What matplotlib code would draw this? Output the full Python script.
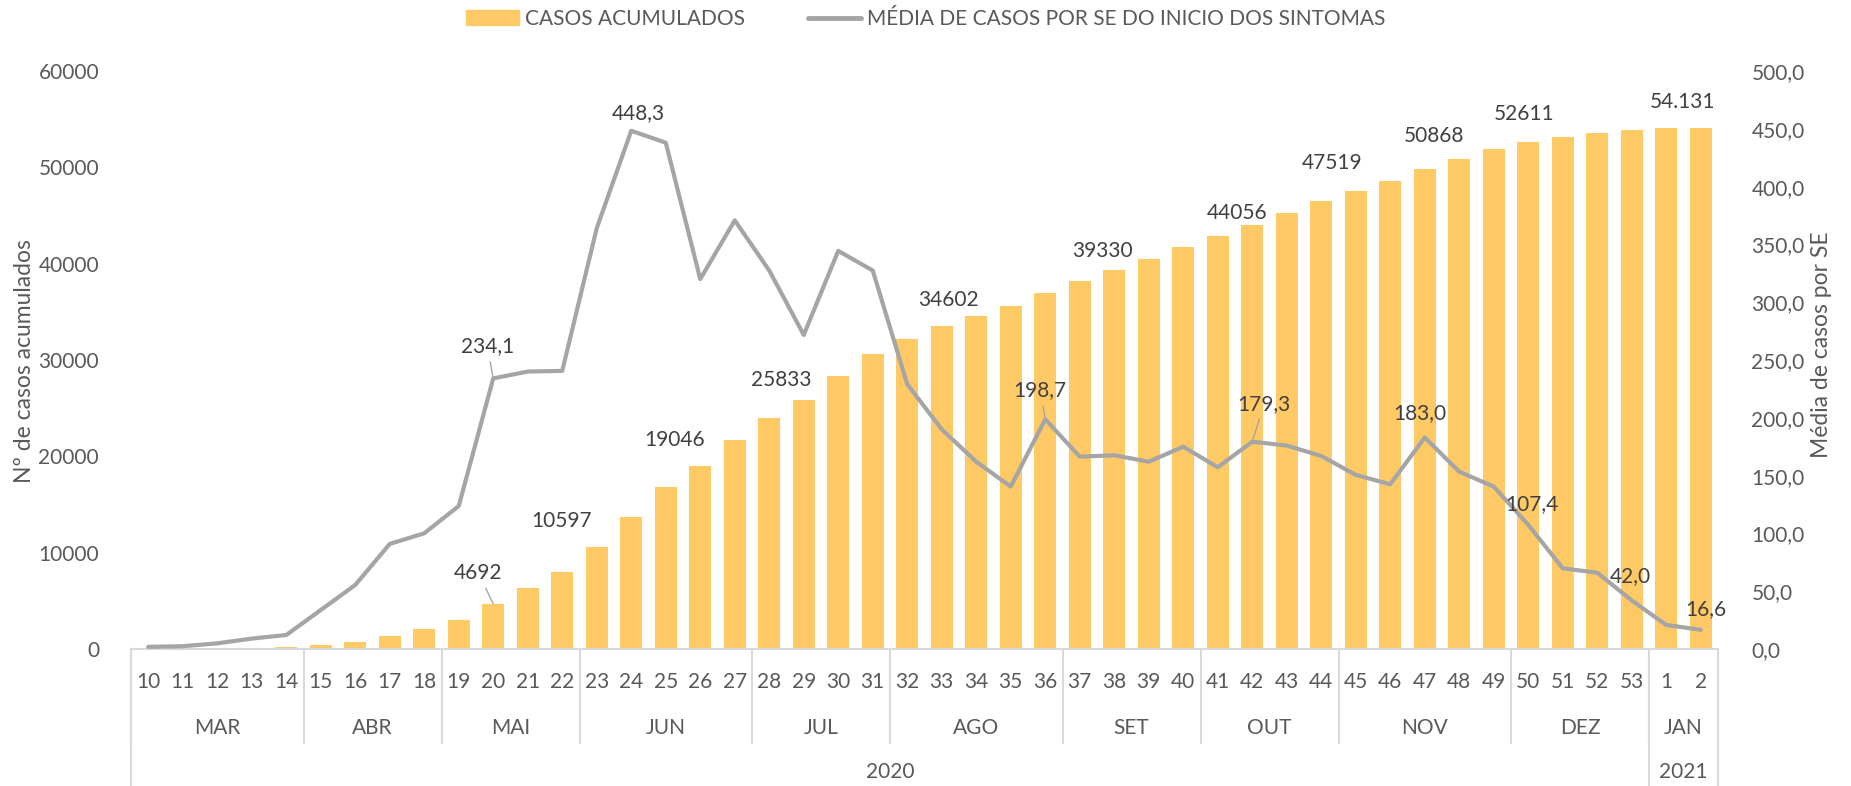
import matplotlib
matplotlib.use('Agg')
import matplotlib.pyplot as plt
import matplotlib.transforms as mtransforms
from matplotlib.lines import Line2D
from matplotlib.patches import Patch
import numpy as np

plt.rcParams['font.family'] = ['Lato', 'DejaVu Sans']

# semanas epidemiologicas (2020: 10-53, 2021: 1-2)
weeks = [str(w) for w in range(10, 54)] + ['1', '2']
months = ['MAR', 'ABR', 'MAI', 'JUN', 'JUL', 'AGO', 'SET', 'OUT', 'NOV', 'DEZ', 'JAN']
month_sizes = [5, 4, 4, 5, 4, 5, 4, 4, 5, 4, 2]
years = ['2020', '2021']
year_sizes = [44, 2]

casos_acumulados = [3, 12, 45, 110, 230, 380, 750, 1370, 2100, 2960, 4692, 6300, 7990,
                    10597, 13700, 16800, 19046, 21700, 24000, 25833, 28300, 30600, 32200,
                    33500, 34602, 35600, 37000, 38200, 39330, 40500, 41700, 42850, 44056,
                    45300, 46500, 47519, 48550, 49800, 50868, 51900, 52611, 53150, 53600,
                    53870, 54050, 54131]
media_casos = [1.9, 2.4, 4.9, 9.0, 12.1, 33.7, 55.4, 90.9, 100.1, 123.7, 234.1, 240.0,
               240.6, 364.0, 448.3, 438.0, 320.0, 370.8, 327.4, 271.7, 344.4, 327.4, 229.0,
               190.0, 162.0, 140.5, 198.7, 166.4, 167.6, 162.0, 175.0, 157.2, 179.3, 176.0,
               167.0, 150.6, 142.5, 183.0, 153.4, 140.5, 107.4, 69.8, 66.0, 42.0, 20.8, 16.6]

# which points get a data label: (index, dx px, dy px, leader line)
bar_labels = [(10, -15, 31, True), (13, -35, 26, False), (16, -26, 26, False),
              (19, -23, 20, False), (24, -28, 16, False), (28, -12, 19, False),
              (32, -15, 12, False), (35, -24, 28, False), (38, -25, 23, False),
              (40, -4, 28, False), (45, -18, 26, False)]
line_labels = [(10, -6, 32, True), (14, 7, 18, False), (26, -5, 29, True),
               (32, 12, 38, True), (37, -5, 24, False), (40, 4, 21, False),
               (43, -1, 24, False), (45, 5, 21, False)]

BAR = '#FFC966'
LINE = '#A5A5A5'
TXT = '#595959'
LAB = '#404040'
GRID = '#D9D9D9'
FS = 15

W, H = 1851, 786
fy = lambda py: 1 - py / H
fig = plt.figure(figsize=(W / 100, H / 100), dpi=100)
ax = fig.add_axes([131 / W, fy(649), (1718 - 131) / W, (649 - 71) / H])
ax2 = ax.twinx()

x = np.arange(len(weeks))
ax.bar(x, casos_acumulados, width=0.65, color=BAR, zorder=2)
ax2.plot(x, media_casos, color=LINE, lw=3.0, solid_capstyle='round',
         solid_joinstyle='round', zorder=3)

ax.set_xlim(-0.5, len(weeks) - 0.5)
ax.set_ylim(0, 60000)
ax2.set_ylim(0, 500)
ax.set_yticks(np.arange(0, 60001, 10000))
ax.set_yticklabels([f'{v}' for v in range(0, 60001, 10000)])
ax2.set_yticks(np.arange(0, 501, 50))
ax2.set_yticklabels([f'{v:.1f}'.replace('.', ',') for v in range(0, 501, 50)])
ax.tick_params(axis='y', length=0, pad=23, labelsize=FS, labelcolor=TXT)
ax2.tick_params(axis='y', length=0, pad=24, labelsize=FS, labelcolor=TXT)
ax.set_xticks([])

for a in (ax, ax2):
    for s in a.spines.values():
        s.set_visible(False)
ax.spines['bottom'].set_visible(True)
ax.spines['bottom'].set_color(GRID)
ax.spines['bottom'].set_linewidth(1.5)

# axis titles
fig.text(25 / W, fy(361), 'Nº de casos acumulados', rotation=90, ha='center', va='center',
         fontsize=16.5, color=TXT)
fig.text(1821 / W, fy(345), 'Média de casos por SE', rotation=90, ha='center', va='center',
         fontsize=16.5, color=TXT)

# multi-level category axis
tr = mtransforms.blended_transform_factory(ax.transData, fig.transFigure)
for i, w in enumerate(weeks):
    ax.text(i, fy(682), w, transform=tr, ha='center', va='center', fontsize=FS, color=TXT)
start = 0
for m, n in zip(months, month_sizes):
    ax.text(start + (n - 1) / 2, fy(728), m, transform=tr, ha='center', va='center',
            fontsize=FS, color=TXT)
    fig.add_artist(Line2D([start - 0.5] * 2, [fy(649), fy(743)], transform=tr, color=GRID, lw=1.5))
    start += n
start = 0
for yname, n in zip(years, year_sizes):
    ax.text(start + (n - 1) / 2, fy(772), yname, transform=tr, ha='center', va='center',
            fontsize=FS, color=TXT)
    fig.add_artist(Line2D([start - 0.5] * 2, [fy(649), fy(786)], transform=tr, color=GRID, lw=1.5))
    start += n
fig.add_artist(Line2D([start - 0.5] * 2, [fy(649), fy(786)], transform=tr, color=GRID, lw=1.5))

# data labels
for i, dx, dy, lead in bar_labels:
    v = casos_acumulados[i]
    txt = f'{v:,}'.replace(',', '.') if i == len(weeks) - 1 else str(v)
    ax.annotate(txt, (i, v), xytext=(dx, dy), textcoords='offset pixels', ha='center',
                va='center', fontsize=FS, color=LAB, zorder=5,
                arrowprops=dict(arrowstyle='-', color=LINE, lw=1, shrinkA=2, shrinkB=0) if lead else None)
for i, dx, dy, lead in line_labels:
    v = media_casos[i]
    ax2.annotate(f'{v:.1f}'.replace('.', ','), (i, v), xytext=(dx, dy), textcoords='offset pixels',
                 ha='center', va='center', fontsize=FS, color=LAB, zorder=5,
                 arrowprops=dict(arrowstyle='-', color=LINE, lw=1, shrinkA=2, shrinkB=0) if lead else None)

handles = [Patch(color=BAR), Line2D([], [], color=LINE, lw=3.5, solid_capstyle='round')]
fig.legend(handles, ['CASOS ACUMULADOS', 'MÉDIA DE CASOS POR SE DO INICIO DOS SINTOMAS'],
           loc='center', bbox_to_anchor=(0.5, fy(19)), ncol=2, frameon=False, fontsize=FS,
           labelcolor=TXT, handlelength=2.55, handletextpad=0.3, columnspacing=3.0)

fig.savefig('out.png', dpi=100)
